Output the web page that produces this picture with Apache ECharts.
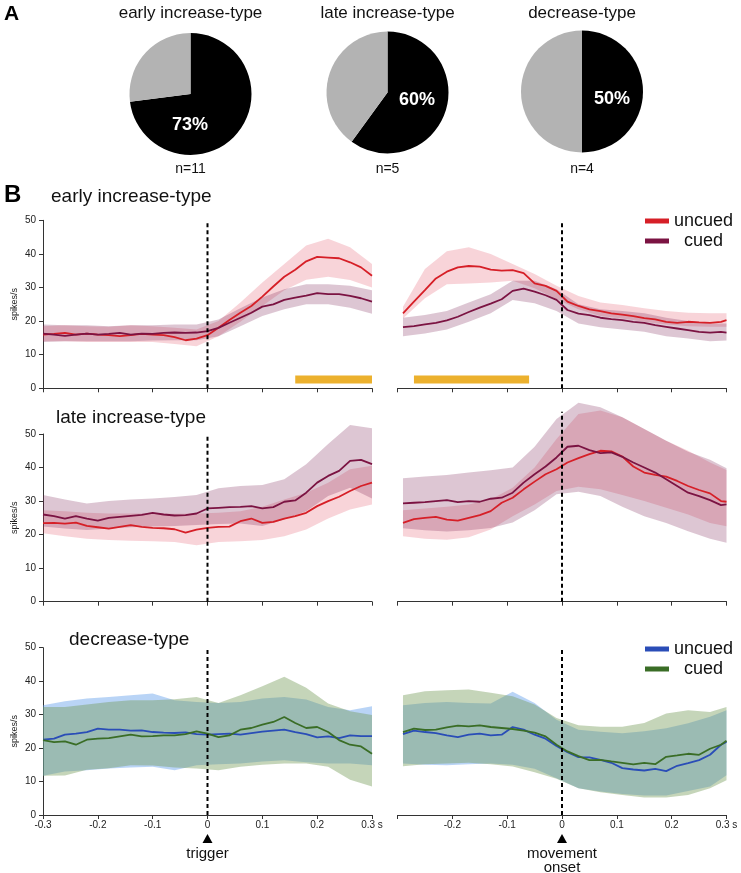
<!DOCTYPE html>
<html>
<head>
<meta charset="utf-8">
<script src="https://cdn.jsdelivr.net/npm/echarts@6/dist/echarts.min.js"></script>
<style>
html,body{margin:0;padding:0;background:#fff;}
#chart{width:741px;height:873px;}
</style>
</head>
<body>
<div id="chart"></div>
<script>
// ---------- Panel A: pies ----------
const pieTitles = ['early increase-type', 'late increase-type', 'decrease-type'];
const piePct = [73, 60, 50];
const pieN = [11, 5, 4];

// ---------- Panel B: time axes ----------
const leftTimes = [-0.30,-0.28,-0.26,-0.24,-0.22,-0.20,-0.18,-0.16,-0.14,-0.12,-0.10,-0.08,-0.06,-0.04,-0.02,0,0.02,0.04,0.06,0.08,0.10,0.12,0.14,0.16,0.18,0.20,0.22,0.24,0.26,0.28,0.30];
const rightTimes = [-0.29,-0.27,-0.25,-0.23,-0.21,-0.19,-0.17,-0.15,-0.13,-0.11,-0.09,-0.07,-0.05,-0.03,-0.01,0.01,0.03,0.05,0.07,0.09,0.11,0.13,0.15,0.17,0.19,0.21,0.23,0.25,0.27,0.29,0.30];
const leftBandTimes = [-0.30,-0.26,-0.22,-0.18,-0.14,-0.10,-0.06,-0.02,0.02,0.06,0.10,0.14,0.18,0.22,0.26,0.30];
const rightBandTimes = [-0.29,-0.25,-0.21,-0.17,-0.13,-0.09,-0.05,-0.01,0.03,0.07,0.11,0.15,0.19,0.23,0.27,0.30];
const yTicks = [0, 10, 20, 30, 40, 50];

// early increase-type, aligned to trigger
const earlyTrigUncued = [16.0,16.2,16.5,16.0,16.3,16.0,15.8,15.5,15.8,16.2,16.0,15.8,15.2,14.3,14.8,15.8,18.0,20.3,22.5,24.5,27.3,30.3,33.2,35.3,37.8,39.1,38.9,38.7,37.5,36.0,33.5];
const earlyTrigCued   = [16.3,16.0,15.6,16.0,16.3,16.0,16.2,16.5,16.0,16.3,16.2,16.5,16.6,16.5,16.6,17.0,18.0,19.5,21.0,22.5,24.3,25.0,26.3,27.0,27.6,28.3,28.0,28.0,27.5,26.8,25.8];
const earlyTrigUncuedLo = [14.0,14.0,13.8,13.8,13.8,13.8,13.2,12.5,15.5,19.8,24.5,29.2,32.3,33.2,32.2,30.0];
const earlyTrigUncuedHi = [18.5,18.8,18.5,18.3,18.8,18.5,18.0,17.5,20.0,25.5,31.5,37.0,42.5,44.5,42.0,37.0];
const earlyTrigCuedLo = [13.8,14.0,14.0,14.0,14.0,14.2,14.3,14.3,15.5,18.5,21.5,23.5,25.0,25.0,24.0,22.2];
const earlyTrigCuedHi = [19.0,18.8,18.8,18.5,18.8,18.8,19.0,19.0,20.5,23.8,27.0,29.5,31.0,31.0,30.5,29.2];

// early increase-type, aligned to movement onset
const earlyMoveUncued = [22.3,25.8,29.2,32.7,34.7,36.0,36.4,36.2,35.3,35.0,35.2,34.3,31.2,30.5,29.0,25.8,24.5,23.5,23.0,22.3,21.9,21.5,20.9,20.5,19.8,19.5,19.8,19.6,19.5,19.8,20.3];
const earlyMoveCued   = [18.2,18.5,19.0,19.5,20.2,21.3,22.7,24.0,25.2,26.5,29.0,29.7,28.8,27.7,26.3,23.3,22.2,21.8,21.0,20.6,20.3,19.8,19.5,18.8,18.3,17.8,17.3,16.8,16.6,16.8,16.6];
const earlyMoveUncuedLo = [20.8,26.8,31.0,31.2,31.5,32.0,29.8,26.5,23.5,21.5,20.8,19.8,19.0,18.5,18.3,18.3];
const earlyMoveUncuedHi = [24.3,35.5,40.8,42.0,40.0,37.0,34.0,30.5,27.5,25.5,24.8,23.8,23.0,22.5,22.3,22.3];
const earlyMoveCuedLo = [15.5,16.3,17.5,19.8,22.3,26.3,25.3,23.0,19.3,18.2,17.5,16.8,15.5,14.8,14.0,14.2];
const earlyMoveCuedHi = [21.0,21.8,23.0,25.5,28.0,32.0,32.0,29.5,25.0,23.5,23.0,22.3,21.0,20.0,19.3,19.3];

// late increase-type, aligned to trigger
const lateTrigUncued = [23.4,23.5,23.3,23.6,22.6,22.2,21.8,22.3,22.8,22.3,22.0,21.9,21.6,20.6,21.5,22.0,22.3,22.4,24.0,24.8,23.5,23.8,24.8,25.5,26.5,28.5,30.0,31.3,33.0,34.5,35.5];
const lateTrigCued   = [26.0,25.5,24.8,25.5,24.8,24.2,25.0,25.3,25.6,25.9,26.5,26.0,25.7,25.8,26.3,27.8,28.0,28.2,28.3,28.5,27.8,28.2,29.8,30.2,32.5,35.5,37.5,39.0,42.0,42.3,41.0];
const lateTrigUncuedLo = [20.4,19.5,18.8,18.4,18.2,18.0,17.8,16.8,17.8,18.0,18.4,19.5,21.5,24.8,27.5,29.0];
const lateTrigUncuedHi = [27.3,27.0,26.5,26.3,26.3,26.3,26.2,26.3,26.5,27.0,28.3,30.5,32.5,35.5,39.5,40.5];
const lateTrigCuedLo = [22.4,21.8,21.4,21.8,22.2,22.4,22.6,22.9,23.2,23.3,22.6,24.5,27.0,31.5,34.0,30.8];
const lateTrigCuedHi = [31.8,30.5,29.3,30.0,30.5,30.8,31.2,31.8,33.8,34.5,34.8,36.5,41.0,47.0,52.7,51.7];

// late increase-type, aligned to movement onset
const lateMoveUncued = [23.5,24.6,25.0,25.3,24.5,24.2,25.0,25.8,27.0,29.5,31.0,33.5,35.8,38.0,39.5,41.5,42.8,44.0,45.0,44.8,43.3,40.3,38.5,37.8,37.3,36.0,34.5,33.3,32.3,30.0,29.8];
const lateMoveCued   = [29.3,29.5,29.7,30.0,30.3,29.7,30.0,29.8,30.7,31.0,32.5,35.5,38.0,40.3,43.0,46.2,46.5,45.2,44.3,44.5,43.2,41.5,40.0,38.5,36.5,34.5,32.5,31.5,30.3,28.8,29.0];
const lateMoveUncuedLo = [19.5,18.8,18.5,19.2,21.5,25.5,29.0,33.0,34.3,33.5,31.8,30.0,28.0,26.0,23.5,22.5];
const lateMoveUncuedHi = [27.3,27.8,28.3,29.0,30.5,34.0,40.0,48.5,56.0,57.0,55.0,51.5,48.0,45.0,41.5,39.3];
const lateMoveCuedLo = [21.9,21.3,20.9,21.3,22.0,23.6,27.3,32.0,32.8,31.5,28.3,25.5,23.5,21.0,18.8,17.6];
const lateMoveCuedHi = [36.8,37.3,37.8,38.5,39.2,40.0,46.2,54.5,59.3,58.0,55.0,51.5,48.0,44.7,42.3,39.8];

// decrease-type, aligned to trigger
const decTrigUncued = [22.5,22.8,24.0,24.3,24.8,25.8,25.5,25.5,25.2,25.3,24.8,24.6,24.5,24.7,24.2,24.0,24.2,24.3,24.0,24.5,24.9,25.2,25.5,24.8,24.2,23.2,23.5,23.0,23.8,23.6,23.6];
const decTrigCued   = [22.4,21.8,22.0,21.0,22.5,22.8,23.0,23.5,24.0,23.5,23.6,23.8,23.8,24.2,25.0,24.3,23.3,23.8,25.5,26.0,27.0,27.8,29.3,27.5,26.0,26.3,24.8,22.4,21.0,20.5,18.3];
const decTrigUncuedLo = [11.7,13.0,13.4,13.9,14.2,14.4,13.4,14.9,15.2,15.4,16.0,16.4,15.8,15.4,15.4,14.9];
const decTrigUncuedHi = [32.8,34.0,34.8,35.3,35.8,36.3,34.3,33.8,33.5,33.8,34.8,35.3,34.5,32.3,31.3,32.5];
const decTrigCuedLo = [11.7,11.8,13.5,14.0,14.9,14.8,14.2,13.9,13.4,14.4,15.0,15.4,15.4,14.4,10.5,8.5];
const decTrigCuedHi = [32.3,32.3,33.0,33.8,34.3,34.3,34.6,35.3,33.5,35.8,38.5,41.3,38.0,33.3,31.0,29.9];

// decrease-type, aligned to movement onset
const decMoveUncued = [24.2,25.2,24.8,24.5,23.8,23.3,24.0,24.3,23.8,24.0,26.3,25.5,24.0,22.8,20.6,18.8,17.3,17.2,16.5,15.6,14.0,13.6,13.3,13.8,13.1,14.7,15.5,16.4,18.0,21.0,21.8];
const decMoveCued   = [24.8,25.8,25.4,25.5,26.2,26.7,26.5,26.8,26.3,26.0,25.7,25.2,24.6,23.5,21.0,19.0,17.6,16.4,16.5,16.0,15.6,15.1,15.6,15.2,17.4,17.8,18.3,18.0,19.8,21.0,22.2];
const decMoveUncuedLo = [15.4,15.0,14.9,15.2,15.4,15.0,13.8,11.0,8.0,7.0,6.3,5.8,5.8,7.2,8.5,11.9];
const decMoveUncuedHi = [32.8,33.5,33.8,33.5,33.3,36.8,33.5,28.5,25.5,24.9,24.4,25.0,25.9,27.4,29.4,31.3];
const decMoveCuedLo = [14.6,15.2,15.4,15.6,15.2,14.5,12.8,10.8,8.0,6.8,6.0,5.2,5.2,6.0,8.0,10.4];
const decMoveCuedHi = [35.8,37.0,37.3,37.5,36.5,35.5,33.0,29.0,26.8,26.4,26.4,27.5,30.3,31.3,30.8,32.3];

// significance bars (time spans) and event-line heights
const sigBarLeft = [0.16, 0.30];
const sigBarRight = [-0.27, -0.06];
const sigBarLevel = 2.6;
const eventLineTop = [49.6, 49.6, 49.8, 56.6, 49.8, 49.8];

// ---------- styling ----------
const FONT = 'Liberation Sans, Arial, Helvetica, sans-serif';
const RED = '#d61f27', MAROON = '#7b1342', BLUE = '#2a4db7', GREEN = '#3a6d26';
const RED_BAND = 'rgba(222,60,82,0.22)', MAROON_BAND = 'rgba(120,28,80,0.25)';
const BLUE_BAND = 'rgba(100,160,235,0.45)', GREEN_BAND = 'rgba(110,150,80,0.40)';

const gridsPos = [
  {left: 43, top: 220.3, width: 329, height: 168},
  {left: 397.5, top: 220.3, width: 329, height: 168},
  {left: 43, top: 434, width: 329, height: 167.7},
  {left: 397.5, top: 434, width: 329, height: 167.7},
  {left: 43, top: 647.7, width: 329, height: 167.3},
  {left: 397.5, top: 647.7, width: 329, height: 167.3}
];

const panels = [
  {times: leftTimes, band: leftBandTimes, u: earlyTrigUncued, c: earlyTrigCued, uLo: earlyTrigUncuedLo, uHi: earlyTrigUncuedHi, cLo: earlyTrigCuedLo, cHi: earlyTrigCuedHi, uc: RED, cc: MAROON, ub: RED_BAND, cb: MAROON_BAND, sig: sigBarLeft},
  {times: rightTimes, band: rightBandTimes, u: earlyMoveUncued, c: earlyMoveCued, uLo: earlyMoveUncuedLo, uHi: earlyMoveUncuedHi, cLo: earlyMoveCuedLo, cHi: earlyMoveCuedHi, uc: RED, cc: MAROON, ub: RED_BAND, cb: MAROON_BAND, sig: sigBarRight},
  {times: leftTimes, band: leftBandTimes, u: lateTrigUncued, c: lateTrigCued, uLo: lateTrigUncuedLo, uHi: lateTrigUncuedHi, cLo: lateTrigCuedLo, cHi: lateTrigCuedHi, uc: RED, cc: MAROON, ub: RED_BAND, cb: MAROON_BAND},
  {times: rightTimes, band: rightBandTimes, u: lateMoveUncued, c: lateMoveCued, uLo: lateMoveUncuedLo, uHi: lateMoveUncuedHi, cLo: lateMoveCuedLo, cHi: lateMoveCuedHi, uc: RED, cc: MAROON, ub: RED_BAND, cb: MAROON_BAND},
  {times: leftTimes, band: leftBandTimes, u: decTrigUncued, c: decTrigCued, uLo: decTrigUncuedLo, uHi: decTrigUncuedHi, cLo: decTrigCuedLo, cHi: decTrigCuedHi, uc: BLUE, cc: GREEN, ub: BLUE_BAND, cb: GREEN_BAND},
  {times: rightTimes, band: rightBandTimes, u: decMoveUncued, c: decMoveCued, uLo: decMoveUncuedLo, uHi: decMoveUncuedHi, cLo: decMoveCuedLo, cHi: decMoveCuedHi, uc: BLUE, cc: GREEN, ub: BLUE_BAND, cb: GREEN_BAND}
];

function bandSeries(gi, times, lo, hi, fill, z) {
  return {
    type: 'custom', xAxisIndex: gi, yAxisIndex: gi, silent: true, clip: false, z: z,
    data: times.map((t, i) => [t, lo[i], hi[i]]),
    encode: {x: 0, y: [1, 2]},
    renderItem: function (params, api) {
      if (params.dataIndex !== 0) return null;
      const pts = [];
      for (let i = 0; i < times.length; i++) pts.push(api.coord([times[i], hi[i]]));
      for (let i = times.length - 1; i >= 0; i--) pts.push(api.coord([times[i], lo[i]]));
      return {type: 'polygon', shape: {points: pts}, style: {fill: fill}};
    }
  };
}
function lineSeries(name, gi, times, vals, color, width) {
  return {
    name: name, type: 'line', xAxisIndex: gi, yAxisIndex: gi, silent: true, clip: false,
    symbol: 'none', z: 4,
    data: times.map((t, i) => [t, vals[i]]),
    lineStyle: {color: color, width: width || 1.8},
    itemStyle: {color: color}
  };
}

const series = [];
const grid = [], xAxis = [], yAxis = [];
panels.forEach((p, gi) => {
  const isLeft = gi % 2 === 0;
  const isBottom = gi >= 4;
  grid.push(Object.assign({containLabel: false}, gridsPos[gi]));
  xAxis.push({
    type: 'value', gridIndex: gi, min: -0.3, max: 0.3, interval: 0.1,
    axisLine: {show: true, onZero: false, lineStyle: {color: '#333', width: 1}},
    axisTick: {show: true, length: 4, lineStyle: {color: '#333'}},
    splitLine: {show: false},
    axisLabel: {
      show: isBottom, fontSize: 10, color: '#222', fontFamily: FONT, margin: 5,
      formatter: function (v) {
        const r = Math.round(v * 10) / 10;
        if (!isLeft && r === -0.3) return '';
        return r === 0.3 ? '0.3 s' : String(r);
      }
    }
  });
  yAxis.push({
    type: 'value', gridIndex: gi, min: yTicks[0], max: yTicks[yTicks.length - 1], interval: 10,
    show: isLeft, position: 'left',
    name: 'spikes/s', nameLocation: 'middle', nameGap: 24, nameRotate: 90,
    nameTextStyle: {fontSize: 9, color: '#222', fontFamily: FONT},
    axisLine: {show: true, onZero: false, lineStyle: {color: '#333', width: 1}},
    axisTick: {show: true, length: 4, lineStyle: {color: '#333'}},
    splitLine: {show: false},
    axisLabel: {fontSize: 10, color: '#222', fontFamily: FONT, margin: 7}
  });
  series.push(bandSeries(gi, p.band, p.uLo, p.uHi, p.ub, 1));
  series.push(bandSeries(gi, p.band, p.cLo, p.cHi, p.cb, 2));
  series.push(lineSeries('uncued', gi, p.times, p.u, p.uc));
  series.push(lineSeries('cued', gi, p.times, p.c, p.cc));
  // event line (trigger / movement onset)
  series.push({
    type: 'line', xAxisIndex: gi, yAxisIndex: gi, silent: true, clip: false, symbol: 'none', z: 5,
    data: [[0, 0], [0, eventLineTop[gi]]],
    lineStyle: {color: '#000', width: 2, type: [4, 3]}
  });
  if (p.sig) {
    series.push({
      type: 'line', xAxisIndex: gi, yAxisIndex: gi, silent: true, clip: false, symbol: 'none', z: 3,
      data: [[p.sig[0], sigBarLevel], [p.sig[1], sigBarLevel]],
      lineStyle: {color: '#ecb12e', width: 8, cap: 'butt'}
    });
  }
});

// pies
const pieCenters = [[190.5, 94], [387.5, 92.5], [582, 91.5]];
piePct.forEach((pct, i) => {
  series.push({
    type: 'pie', center: pieCenters[i], radius: 61, startAngle: 90, clockwise: true,
    silent: true, label: {show: false}, labelLine: {show: false},
    itemStyle: {borderWidth: 0},
    data: [
      {value: pct, name: pieTitles[i] + ' responsive', itemStyle: {color: '#000'}},
      {value: 100 - pct, name: pieTitles[i] + ' other', itemStyle: {color: '#b3b3b3'}}
    ]
  });
});

const legendCommon = {
  orient: 'vertical', icon: 'rect', itemWidth: 24, itemHeight: 5, itemGap: 2, padding: 0,
  selectedMode: false,
  textStyle: {fontSize: 18, color: '#111', fontFamily: FONT},
  formatter: function (n) { return n === 'cued' ? '  cued' : n; }
};
const legends = [
  Object.assign({}, legendCommon, {left: 645, top: 212, data: [
    {name: 'uncued', itemStyle: {color: RED}},
    {name: 'cued', itemStyle: {color: MAROON}}]}),
  Object.assign({}, legendCommon, {left: 645, top: 640, data: [
    {name: 'uncued', itemStyle: {color: BLUE}},
    {name: 'cued', itemStyle: {color: GREEN}}]})
];

const chart = echarts.init(document.getElementById('chart'), null, {renderer: 'canvas'});
chart.setOption({
  animation: false,
  backgroundColor: '#fff',
  textStyle: {fontFamily: FONT},
  grid: grid, xAxis: xAxis, yAxis: yAxis, legend: legends, series: series
});

// annotations positioned from the library's own scales
const g = [];
g.push({type: 'text', left: 4, top: 4, style: {text: 'A', fontSize: 21, fontWeight: 'bold', fill: '#000', fontFamily: FONT}});
g.push({type: 'text', left: 4, top: 183, style: {text: 'B', fontSize: 24, fontWeight: 'bold', fill: '#000', fontFamily: FONT}});
const pctPos = [[190, 125], [417, 100], [612, 99]];
pieTitles.forEach((t, i) => {
  g.push({type: 'text', x: pieCenters[i][0], y: 13, style: {text: t, fontSize: 17, fill: '#111', fontFamily: FONT, align: 'center', verticalAlign: 'middle'}});
  g.push({type: 'text', x: pctPos[i][0], y: pctPos[i][1], z: 10, style: {text: piePct[i] + '%', fontSize: 18, fontWeight: 'bold', fill: '#fff', fontFamily: FONT, align: 'center', verticalAlign: 'middle'}});
  g.push({type: 'text', x: pieCenters[i][0], y: 169, style: {text: 'n=' + pieN[i], fontSize: 14, fill: '#111', fontFamily: FONT, align: 'center', verticalAlign: 'middle'}});
});
const panelTitles = [['early increase-type', 51, 197], ['late increase-type', 56, 418], ['decrease-type', 69, 640]];
panelTitles.forEach(pt => {
  g.push({type: 'text', x: pt[1], y: pt[2], style: {text: pt[0], fontSize: 19, fill: '#111', fontFamily: FONT, verticalAlign: 'middle'}});
});
const evL = chart.convertToPixel({xAxisIndex: 4, yAxisIndex: 4}, [0, 0]);
const evR = chart.convertToPixel({xAxisIndex: 5, yAxisIndex: 5}, [0, 0]);
[[evL, ['trigger']], [evR, ['movement', 'onset']]].forEach(([p, words]) => {
  g.push({type: 'polygon', shape: {points: [[p[0] - 5, p[1] + 28], [p[0] + 5, p[1] + 28], [p[0], p[1] + 19]]}, style: {fill: '#000'}});
  words.forEach((w, k) => {
    g.push({type: 'text', x: p[0], y: p[1] + 39 + k * 14, style: {text: w, fontSize: 15, fill: '#111', fontFamily: FONT, align: 'center', verticalAlign: 'middle'}});
  });
});
chart.setOption({graphic: g});
</script>
</body>
</html>
